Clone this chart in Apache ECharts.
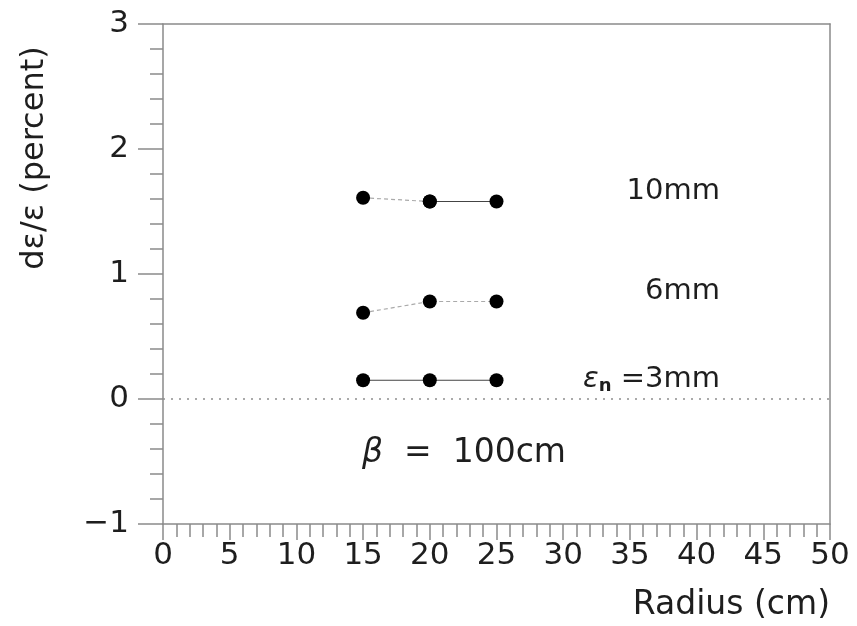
<!DOCTYPE html>
<html>
<head>
<meta charset="utf-8">
<script src="https://cdn.jsdelivr.net/npm/echarts@6/dist/echarts.min.js"></script>
<style>
  html, body { margin: 0; padding: 0; background: #fff; }
  #chart { width: 857px; height: 626px; }
</style>
</head>
<body>
<div id="chart"></div>
<script>
// Emittance growth versus radius, for three normalised emittances
const radius = [15, 20, 25];
const growth3mm = [0.15, 0.15, 0.15];
const growth6mm = [0.69, 0.78, 0.78];
const growth10mm = [1.61, 1.58, 1.58];

const curveLabels = ['10mm', '6mm', '=3mm'];
const xTitle = 'Radius (cm)';
const yTitle = 'dε/ε (percent)';
const betaLabel = '  =  100cm';

const FONT = 'DejaVu Sans';
const TEXT = '#1e1e1e';
const AXIS = '#8a8a8a';

const pairs = (xs, ys) => xs.map((x, i) => [x, ys[i]]);

const chart = echarts.init(document.getElementById('chart'), null, { renderer: 'canvas' });

const dot = { symbol: 'circle', symbolSize: 14, itemStyle: { color: '#000' } };

chart.setOption({
  animation: false,
  backgroundColor: '#fff',
  grid: { left: 163, right: 27, top: 24, bottom: 102 },
  xAxis: [{
    type: 'value', min: 0, max: 50, interval: 5,
    axisLine: { onZero: false, lineStyle: { color: AXIS, width: 1.5 } },
    axisTick: { length: 16, lineStyle: { color: AXIS, width: 1.5 } },
    minorTick: { show: true, splitNumber: 5, length: 13, lineStyle: { color: AXIS, width: 1.5 } },
    splitLine: { show: false },
    axisLabel: { fontFamily: FONT, fontSize: 31, color: TEXT, margin: 16 }
  }, {
    type: 'value', position: 'top', min: 0, max: 50,
    axisLine: { show: true, onZero: false, lineStyle: { color: AXIS, width: 1.5 } },
    axisTick: { show: false }, axisLabel: { show: false }, splitLine: { show: false }
  }],
  yAxis: [{
    type: 'value', min: -1, max: 3, interval: 1,
    axisLine: { show: true, onZero: false, lineStyle: { color: AXIS, width: 1.5 } },
    axisTick: { length: 25, lineStyle: { color: AXIS, width: 1.5 } },
    minorTick: { show: true, splitNumber: 5, length: 13, lineStyle: { color: AXIS, width: 1.5 } },
    splitLine: { show: false },
    axisLabel: {
      fontFamily: FONT, fontSize: 31, color: TEXT, margin: 34,
      formatter: v => String(v).replace('-', '\u2212')
    }
  }, {
    type: 'value', position: 'right', min: -1, max: 3,
    axisLine: { show: true, onZero: false, lineStyle: { color: AXIS, width: 1.5 } },
    axisTick: { show: false }, axisLabel: { show: false }, splitLine: { show: false }
  }],
  series: [
    {
      name: 'zero', type: 'line', data: [], silent: true,
      markLine: {
        symbol: 'none', silent: true, label: { show: false },
        lineStyle: { color: '#8f8f8f', width: 1.6, type: [2, 6] },
        data: [{ yAxis: 0 }]
      }
    },
    {
      name: '3mm', type: 'line', data: pairs(radius, growth3mm), ...dot,
      lineStyle: { color: '#444', width: 1.2 }
    },
    {
      name: '6mm', type: 'line', data: pairs(radius, growth6mm), ...dot,
      lineStyle: { color: '#aaa', width: 1.2, type: [4, 3] }
    },
    {
      name: '10mm-a', type: 'line', data: pairs(radius.slice(0, 2), growth10mm.slice(0, 2)), ...dot,
      lineStyle: { color: '#aaa', width: 1.2, type: [4, 3] }
    },
    {
      name: '10mm-b', type: 'line', data: pairs(radius.slice(1), growth10mm.slice(1)), ...dot,
      lineStyle: { color: '#444', width: 1.2 }
    }
  ],
  graphic: [
    {
      type: 'text', right: 857 - 720, top: 190 - 13,
      style: { text: curveLabels[0], fontFamily: FONT, fontSize: 29, fill: TEXT }
    },
    {
      type: 'text', right: 857 - 720, top: 290 - 13,
      style: { text: curveLabels[1], fontFamily: FONT, fontSize: 29, fill: TEXT }
    },
    {
      type: 'text', right: 857 - 720, top: 378 - 13,
      style: {
        text: '{e|ε}{n|n} ' + curveLabels[2],
        fontFamily: FONT, fontSize: 29, fill: TEXT,
        rich: {
          e: { fontFamily: FONT, fontSize: 29, fontStyle: 'italic', fill: TEXT },
          n: { fontFamily: FONT, fontSize: 18, fontWeight: 'bold', fill: TEXT, padding: [14, 0, 0, 0] }
        }
      }
    },
    {
      type: 'text', left: 362, top: 452 - 15,
      style: {
        text: '{b|β}' + betaLabel, fontFamily: FONT, fontSize: 33, fill: TEXT,
        rich: { b: { fontFamily: FONT, fontSize: 33, fontStyle: 'italic', fill: TEXT } }
      }
    },
    {
      type: 'text', right: 27, top: 603 - 14,
      style: { text: xTitle, fontFamily: FONT, fontSize: 33, fill: TEXT }
    },
    {
      type: 'text', x: 35, y: 158, rotation: Math.PI / 2,
      style: {
        text: yTitle, fontFamily: FONT, fontSize: 32, fill: TEXT,
        align: 'center', verticalAlign: 'middle'
      }
    }
  ]
});
</script>
</body>
</html>
